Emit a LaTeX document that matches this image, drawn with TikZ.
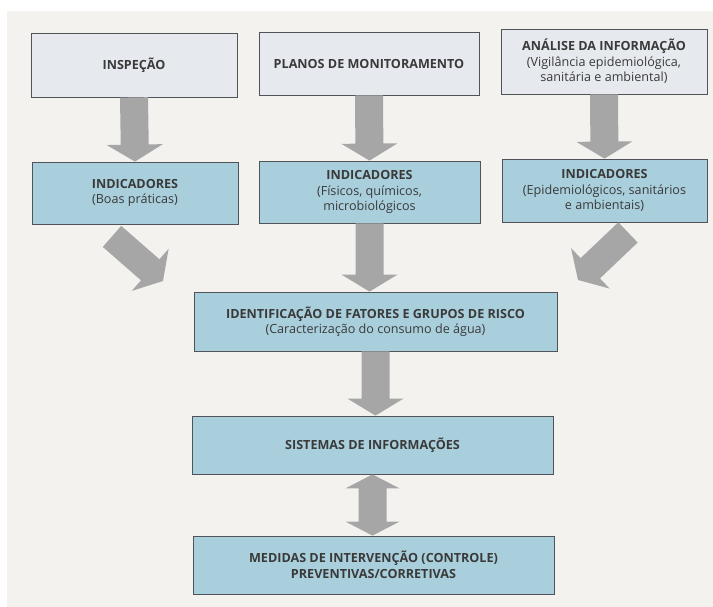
\documentclass[tikz,border=0pt]{standalone}
\usepackage{fontspec}
\setmainfont{Open Sans}
\usetikzlibrary{calc}

\definecolor{pagebg}{HTML}{F4F2EF}
\definecolor{topfill}{HTML}{E6EAEE}
\definecolor{bluefill}{HTML}{A9CFDC}
\definecolor{boxline}{HTML}{505458}
\definecolor{txt}{HTML}{3A3A3A}
\definecolor{arrowgray}{HTML}{A7A6A7}

% block arrow from #1 to #2 (tip at #2)
\newcommand\blockarrow[2]{%
  \coordinate (hb) at ($(#2)!17pt!(#1)$);
  \fill[arrowgray] ($(#1)!14pt!90:(#2)$) -- ($(hb)!14pt!90:(#2)$)
    -- ($(hb)!28pt!90:(#2)$) -- (#2) -- ($(hb)!28pt!-90:(#2)$)
    -- ($(hb)!14pt!-90:(#2)$) -- ($(#1)!14pt!-90:(#2)$) -- cycle;
}
% double-headed block arrow between #1 and #2
\newcommand\doubleblockarrow[2]{%
  \coordinate (ha) at ($(#1)!14pt!(#2)$);
  \coordinate (hb) at ($(#2)!14pt!(#1)$);
  \fill[arrowgray] (#1) -- ($(ha)!27pt!90:(#2)$) -- ($(ha)!14pt!90:(#2)$)
    -- ($(hb)!14pt!90:(#2)$) -- ($(hb)!27pt!90:(#2)$) -- (#2)
    -- ($(hb)!27pt!-90:(#2)$) -- ($(hb)!14pt!-90:(#2)$)
    -- ($(ha)!14pt!-90:(#2)$) -- ($(ha)!27pt!-90:(#2)$) -- cycle;
}

\begin{document}
\begin{tikzpicture}[x=1pt,y=-1pt,
  box/.style={draw=boxline, line width=0.8pt, rectangle, inner sep=0pt,
    align=center, text=txt, font=\fontsize{12.6}{15.5}\selectfont},
  topbox/.style={box, fill=topfill},
  bluebox/.style={box, fill=bluefill}]

\useasboundingbox (0,0) rectangle (713,607);
\fill[white] (0,0) rectangle (713,607);
\fill[pagebg] (7,11) rectangle (713,607);

% sources
\node[topbox, minimum width=206pt, minimum height=64pt] (insp) at (134,65)
  {\bfseries INSPEÇÃO};
\node[topbox, minimum width=220pt, minimum height=63pt] (plan) at (369,63.5)
  {\bfseries PLANOS DE MONITORAMENTO};
\node[topbox, minimum width=206pt, minimum height=65pt] (anal) at (604,61.5)
  {\bfseries ANÁLISE DA INFORMAÇÃO\\(Vigilância epidemiológica,\\sanitária e ambiental)};

% indicators
\node[bluebox, minimum width=206pt, minimum height=62pt] (ind1) at (135,193)
  {\bfseries INDICADORES\\(Boas práticas)};
\node[bluebox, minimum width=221pt, minimum height=62pt] (ind2) at (369.5,192)
  {\bfseries INDICADORES\\(Físicos, químicos,\\microbiológicos};
\node[bluebox, minimum width=205pt, minimum height=63pt] (ind3) at (604.5,190.5)
  {\bfseries INDICADORES\\(Epidemiológicos, sanitários\\e ambientais)};

% lower chain
\node[bluebox, minimum width=363pt, minimum height=59pt] (ident) at (375.5,321.5)
  {\bfseries IDENTIFICAÇÃO DE FATORES E GRUPOS DE RISCO\\(Caracterização do consumo de água)};
\node[bluebox, minimum width=361pt, minimum height=58pt] (sist) at (372.5,445)
  {\bfseries SISTEMAS DE INFORMAÇÕES};
\node[bluebox, minimum width=361pt, minimum height=58pt] (med) at (373.5,565)
  {\bfseries MEDIDAS DE INTERVENÇÃO (CONTROLE)\\\bfseries PREVENTIVAS/CORRETIVAS};

% connectors
\blockarrow{insp.south}{ind1.north}
\blockarrow{plan.south}{ind2.north}
\blockarrow{anal.south}{ind3.north}

\coordinate (d1s) at ($(ind1.south)+(-23,12)$);
\coordinate (d1e) at (163,281);
\blockarrow{d1s}{d1e}
\coordinate (d3s) at ($(ind3.south)+(23.5,10)$);
\coordinate (d3e) at (578,280);
\blockarrow{d3s}{d3e}

\blockarrow{ind2.south}{ind2.south |- ident.north}
\blockarrow{ident.south}{ident.south |- sist.north}
\doubleblockarrow{sist.south}{sist.south |- med.north}
\end{tikzpicture}
\end{document}
